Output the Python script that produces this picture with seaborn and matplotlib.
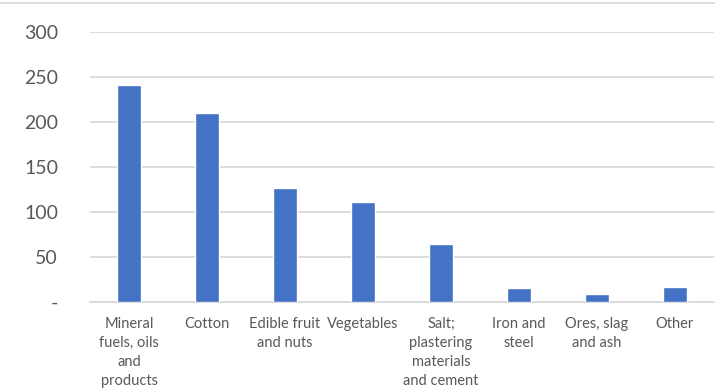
import matplotlib
matplotlib.use("Agg")
import matplotlib.pyplot as plt
import seaborn as sns
import pandas as pd
from matplotlib.lines import Line2D

categories = [
    "Mineral\nfuels, oils\nand\nproducts",
    "Cotton",
    "Edible fruit\nand nuts",
    "Vegetables",
    "Salt;\nplastering\nmaterials\nand cement",
    "Iron and\nsteel",
    "Ores, slag\nand ash",
    "Other",
]
values = [241, 210, 127, 111, 64, 15.5, 9, 16.5]
y_ticks = [0, 50, 100, 150, 200, 250, 300]
y_tick_labels = ["-", "50", "100", "150", "200", "250", "300"]

sns.set_theme(style="white")
plt.rcParams["font.family"] = ["Lato", "DejaVu Sans"]

text_color = "#595959"
grid_color = "#D9D9D9"
bar_color = "#4472C4"

df = pd.DataFrame({"category": categories, "value": values})

fig = plt.figure(figsize=(7.15, 3.89), dpi=100)
ax = fig.add_axes([90 / 715, 1 - 302 / 389, 624 / 715, 270 / 389])

sns.barplot(data=df, x="category", y="value", color=bar_color, width=0.32,
            saturation=1, ax=ax, zorder=3)

ax.set_ylim(0, 300)
ax.set_xlim(-0.5, len(categories) - 0.5)
ax.set_yticks(y_ticks)
ax.set_yticklabels(y_tick_labels)
ax.set_xlabel("")
ax.set_ylabel("")

ax.yaxis.grid(True, color=grid_color, linewidth=1.3, zorder=0)
ax.set_axisbelow(True)
for side in ["top", "right", "left"]:
    ax.spines[side].set_visible(False)
ax.spines["bottom"].set_color(grid_color)
ax.spines["bottom"].set_linewidth(1.3)

ax.tick_params(axis="y", length=0, pad=23, labelsize=14, labelcolor=text_color)
ax.tick_params(axis="x", length=0, pad=10.5, labelsize=10.5, labelcolor=text_color)
for lbl in ax.get_xticklabels():
    lbl.set_linespacing(1.48)
    lbl.set_horizontalalignment("center")

# chart frame line along the top edge
fig.add_artist(Line2D([0, 1], [1 - 3 / 389, 1 - 3 / 389], color=grid_color,
                      linewidth=1.2, transform=fig.transFigure))

fig.savefig("out.png", dpi=100)
